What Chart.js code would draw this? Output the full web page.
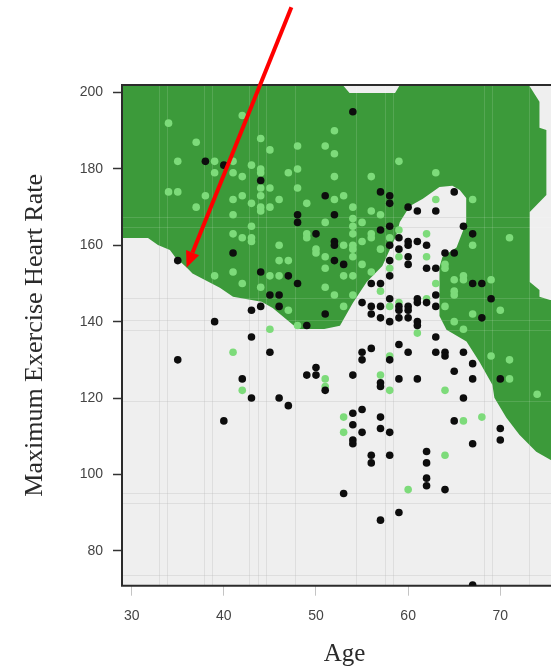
<!DOCTYPE html>
<html>
<head>
<meta charset="utf-8">
<title>Age vs Maximum Exercise Heart Rate</title>
<script src="https://cdn.jsdelivr.net/npm/chart.js@4.4.1/dist/chart.umd.min.js"></script>
<style>
  html, body { margin: 0; padding: 0; background: #fff; overflow: hidden; }
  body { width: 551px; height: 669px; }
  canvas { display: block; }
</style>
</head>
<body>
<!-- the plot runs past the right edge of the picture, so the canvas is a bit wider than the window -->
<canvas id="myChart" width="571" height="669"></canvas>
<script>
// observations: [age, max heart rate]
var blackPoints = [
  [38,182],[40,181],[44,177],[48,168],[48,166],[41,158],[35,156],[51,173],[52,168],[50,163],[52,161],[52,160],[52,156],[53,155],[54,195],
  [44,153],[47,152],[48,150],[45,147],[46,147],[44,144],[46,144],[43,143],[39,140],[49,139],[51,142],[43,136],[35,130],[45,132],[42,125],
  [43,120],[46,120],[47,118],[40,114],[49,126],[50,128],[50,126],[51,122],
  [57,174],[58,173],[58,171],[65,174],[60,170],[61,169],[63,169],[66,165],[57,164],[58,165],[58,160],[59,162],[59,159],[60,161],[60,160],
  [61,161],[62,160],[64,158],[65,158],[58,156],[60,157],[60,155],[62,154],[63,154],[58,152],[56,150],[57,150],[55,145],[58,146],[56,144],
  [56,142],[57,144],[57,141],[58,140],[59,144],[59,143],[59,141],[60,144],[60,143],[60,141],[61,146],[61,145],[62,145],[63,147],[63,144],
  [61,140],[61,139],[63,136],
  [59,134],[56,133],[55,132],[55,130],[58,130],[60,132],[63,132],[64,132],[64,131],[66,132],[54,126],[57,124],[57,123],[59,125],[61,125],
  [65,127],[66,120],[55,117],[54,116],[54,113],[55,111],[57,115],[57,112],[58,111],[54,109],[54,108],[65,114],[56,105],[56,103],[58,105],
  [62,106],[62,103],[62,99],[62,97],[64,96],[53,95],[59,90],[57,88],[67,71],[67,108],[70,109],[70,112],
  [67,163],[67,150],[68,150],[69,146],[68,141],[67,129],[67,125],[70,125]
];
var greenPoints = [
  [34,192],[42,194],[37,187],[35,182],[39,182],[41,182],[39,179],[41,179],[42,178],[43,181],[44,188],[44,180],[44,179],[45,185],[34,174],
  [35,174],[38,173],[37,170],[41,172],[42,173],[41,168],[43,171],[44,175],[44,173],[45,175],[44,170],[44,169],[45,170],[46,172],[47,179],
  [48,180],[48,186],[48,175],[49,171],[43,165],[41,163],[42,162],[43,162],[43,161],[46,160],[46,156],[47,156],[49,163],[49,162],[50,159],
  [50,158],[51,157],[51,154],[51,166],[51,186],[52,190],[52,184],[52,178],[52,172],
  [39,152],[41,153],[42,150],[44,149],[45,152],[46,152],[47,143],[51,149],[52,147],[53,144],[48,139],[45,138],[41,132],[42,122],
  [56,178],[63,179],[59,182],[53,173],[54,170],[56,169],[57,168],[54,167],[54,165],[54,163],[55,166],[56,163],[56,162],[53,160],[54,160],
  [54,159],[54,157],[55,161],[57,159],[53,152],[54,152],[55,155],[56,153],[58,154],[59,164],[58,162],[59,157],[62,163],[62,157],[63,172],
  [64,155],[64,154],[65,151],[66,152],[66,151],[65,147],[64,144],[63,150],[57,148],[58,144],[59,145],[62,146],[61,137],[54,147],
  [58,131],[57,126],[58,122],[64,122],[53,115],[53,111],[66,114],[64,105],[60,96],[51,125],[51,123],
  [67,172],[67,160],[71,162],[69,151],[65,148],[67,142],[70,143],[65,140],[66,138],[69,131],[71,130],[71,125],[74,121],[68,115]
];

// classifier decision region (green) and the two light gaps cut out of it
var greenRegion = [
  [28,215],[80,215],[80,97.5],[75.43,103.8],[73.9,105.9],[72.07,110.4],[70.66,114.8],[69.36,120.1],[69.14,123.5],
  [67.73,129.5],[66.33,134.8],[64.16,137.9],[63.4,141.5],[63.4,154.3],[63.73,157.0],[65.25,159.4],[65.9,163.5],
  [66.3,166.1],[66.3,172.4],[65.6,174.5],[64.8,175.6],[63.4,175.3],[61.6,172.2],[60.2,170.3],[59.1,166.1],
  [58.7,162.5],[57.2,154.6],[55.5,150.4],[54.0,144.9],[52.6,138.9],[50.9,138.1],[48.2,138.1],[47.49,139.2],
  [45.3,143.6],[44.1,145.2],[41.0,146.5],[39.57,148.9],[37.9,151.0],[36.6,152.6],[35.99,154.1],[34.69,157.0],
  [34.15,158.8],[32.85,160.1],[31.77,161.9],[28,161.9]
];
var topGap = [[52.9,215],[52.9,202],[53.64,199.9],[58.58,199.9],[59.1,202],[59.1,215]];
var rightGap = [
  [73.1,215],[73.1,202],[74.25,197.6],[74.25,190.8],[75.0,190.2],[75.0,173.2],[73.2,168.7],[73.2,150.4],
  [74.25,148.3],[74.25,146.5],[75.4,145.7],[80,145.7],[80,215]
];

var xTicks = [30, 40, 50, 60, 70];
var yTicks = [80, 100, 120, 140, 160, 180, 200];

// faint lines left over from the prediction grid
var gridAges = [32.96, 33.86, 37.83, 38.7, 42.74, 43.72, 44.63, 47.69, 54.38, 57.44, 58.31, 68.28, 69.14, 73.15];
var gridRates = [167.5, 164.9, 146.3, 140.5, 137.9, 119.1, 95.1, 92.5, 73.7];

var arrowFrom = [47.33, 222.4];
var arrowTo = [35.96, 154.2];

function toXY(p) { return { x: p[0], y: p[1] }; }

function drawGrid(chart, color) {
  var ctx = chart.ctx, a = chart.chartArea;
  var xs = chart.scales.x, ys = chart.scales.y;
  ctx.save();
  ctx.beginPath();
  ctx.rect(a.left, a.top, a.right - a.left, a.bottom - a.top);
  ctx.clip();
  ctx.strokeStyle = color;
  ctx.lineWidth = 1;
  gridAges.forEach(function (v) {
    var px = Math.round(xs.getPixelForValue(v)) + 0.5;
    ctx.beginPath(); ctx.moveTo(px, a.top); ctx.lineTo(px, a.bottom); ctx.stroke();
  });
  gridRates.forEach(function (v) {
    var py = Math.round(ys.getPixelForValue(v)) + 0.5;
    ctx.beginPath(); ctx.moveTo(a.left, py); ctx.lineTo(a.right, py); ctx.stroke();
  });
  ctx.restore();
}

var decor = {
  id: "decor",
  beforeDraw: function (chart) {
    var ctx = chart.ctx, a = chart.chartArea;
    ctx.save();
    ctx.fillStyle = "#efefef";
    ctx.fillRect(a.left, a.top, a.right - a.left, a.bottom - a.top);
    ctx.restore();
    drawGrid(chart, "rgba(0,0,0,0.09)");
  },
  beforeDatasetDraw: function (chart, args) {
    if (args.meta.label !== "green") return;
    drawGrid(chart, "rgba(255,255,255,0.13)");
    // frame: left, bottom and top
    var ctx = chart.ctx, a = chart.chartArea;
    ctx.save();
    ctx.strokeStyle = "#2b2b2b";
    ctx.lineWidth = 2;
    ctx.beginPath();
    ctx.moveTo(a.right, a.top);
    ctx.lineTo(a.left, a.top);
    ctx.lineTo(a.left, a.bottom);
    ctx.lineTo(a.right, a.bottom);
    ctx.stroke();
    ctx.restore();
  },
  afterDatasetsDraw: function (chart) {
    var ctx = chart.ctx, xs = chart.scales.x, ys = chart.scales.y;
    var x0 = xs.getPixelForValue(arrowFrom[0]), y0 = ys.getPixelForValue(arrowFrom[1]);
    var x1 = xs.getPixelForValue(arrowTo[0]), y1 = ys.getPixelForValue(arrowTo[1]);
    var ang = Math.atan2(y1 - y0, x1 - x0);
    var head = 16, half = 7;
    var bx = x1 - head * Math.cos(ang), by = y1 - head * Math.sin(ang);
    ctx.save();
    ctx.strokeStyle = "#ff0000";
    ctx.fillStyle = "#ff0000";
    ctx.lineWidth = 4;
    ctx.beginPath(); ctx.moveTo(x0, y0); ctx.lineTo(bx, by); ctx.stroke();
    ctx.beginPath();
    ctx.moveTo(x1, y1);
    ctx.lineTo(bx + half * Math.sin(ang), by - half * Math.cos(ang));
    ctx.lineTo(bx - half * Math.sin(ang), by + half * Math.cos(ang));
    ctx.closePath();
    ctx.fill();
    ctx.restore();
  }
};

function region(label, pts, color, order) {
  return {
    label: label,
    data: pts.map(toXY),
    showLine: true,
    fill: "shape",
    backgroundColor: color,
    borderColor: color,
    borderWidth: 0,
    pointRadius: 0,
    pointHoverRadius: 0,
    tension: 0,
    order: order
  };
}

var ctx = document.getElementById("myChart");
var myChart = new Chart(ctx, {
  type: "scatter",
  data: {
    datasets: [
      {
        label: "black",
        data: blackPoints.map(toXY),
        backgroundColor: "#0d0d0d",
        pointRadius: 3.8,
        pointHoverRadius: 3.8,
        pointBorderWidth: 0,
        order: 0
      },
      {
        label: "green",
        data: greenPoints.map(toXY),
        backgroundColor: "#7ddb7a",
        pointRadius: 3.8,
        pointHoverRadius: 3.8,
        pointBorderWidth: 0,
        order: 1
      },
      region("gapTop", topGap, "#efefef", 3),
      region("gapRight", rightGap, "#efefef", 3),
      region("region", greenRegion, "#3c9a3a", 5)
    ]
  },
  options: {
    responsive: false,
    animation: false,
    events: [],
    layout: { padding: { top: 85, right: 0, bottom: 0, left: 0 } },
    plugins: {
      legend: { display: false },
      tooltip: { enabled: false }
    },
    scales: {
      x: {
        type: "linear",
        min: 28.95,
        max: 77.26,
        afterBuildTicks: function (s) { s.ticks = xTicks.map(function (v) { return { value: v }; }); },
        afterFit: function (s) { s.height = 83.3; s.paddingLeft = 0; s.paddingRight = 0; },
        border: { display: false },
        grid: { drawOnChartArea: false, drawTicks: true, tickLength: 10, tickColor: "#c4c4c4", tickWidth: 1 },
        ticks: { color: "#444", font: { family: "Liberation Sans", size: 14 }, padding: 12, maxRotation: 0 },
        title: {
          display: true,
          text: "Age",
          color: "#2a2a2a",
          font: { family: "Liberation Serif", size: 25 },
          padding: { top: 0, bottom: 0 }
        }
      },
      y: {
        type: "linear",
        min: 70.83,
        max: 202.0,
        afterBuildTicks: function (s) { s.ticks = yTicks.map(function (v) { return { value: v }; }); },
        afterFit: function (s) { s.width = 122; },
        border: { display: false },
        grid: { drawOnChartArea: false, drawTicks: true, tickLength: 9, tickColor: "#333", tickWidth: 1.5 },
        ticks: { color: "#444", font: { family: "Liberation Sans", size: 14 }, padding: 10 },
        title: {
          display: true,
          text: "Maximum Exercise Heart Rate",
          color: "#2a2a2a",
          font: { family: "Liberation Serif", size: 26 },
          padding: { top: 20, bottom: 0 }
        }
      }
    }
  },
  plugins: [decor]
});
</script>
</body>
</html>
